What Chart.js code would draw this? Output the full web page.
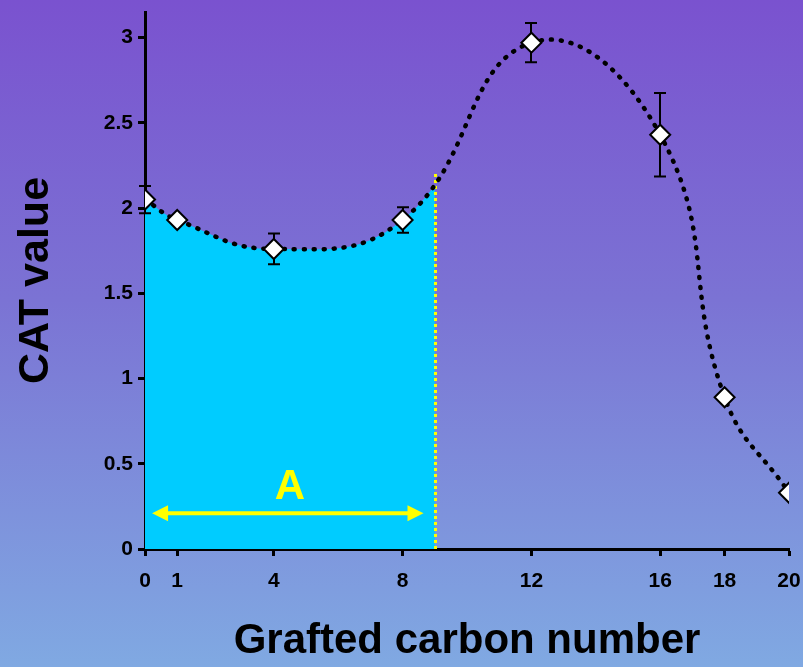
<!DOCTYPE html>
<html>
<head>
<meta charset="utf-8">
<script src="https://cdn.jsdelivr.net/npm/chart.js@4.4.1/dist/chart.umd.min.js"></script>
<style>
  html, body { margin: 0; padding: 0; }
  body {
    width: 803px; height: 667px; overflow: hidden;
    background: linear-gradient(to bottom, #7a52cf 0%, #7b73d4 45%, #80a9e2 100%);
  }
  #wrap { position: relative; width: 803px; height: 667px; }
</style>
</head>
<body>
<div id="wrap"><canvas id="c" width="803" height="667"></canvas></div>
<script>
// ---- data ----
const carbonNumbers = [0, 1, 4, 8, 12, 16, 18, 20];
const catValues     = [2.05, 1.93, 1.76, 1.93, 2.97, 2.43, 0.89, 0.33];
const catErrors     = [0.08, 0.00, 0.09, 0.075, 0.115, 0.245, 0.00, 0.00];
const xTickValues   = [0, 1, 4, 8, 12, 16, 18, 20];
const yTickValues   = [0, 0.5, 1, 1.5, 2, 2.5, 3];
const regionEndX    = 9;     // end of the shaded region "A"
const regionEndY    = 2.2;   // curve height at regionEndX
const arrowFromX    = 0.22;
const arrowToX      = 8.65;
const arrowY        = 0.21;
const regionLabel   = 'A';
const regionLabelX  = 4.5;
const regionLabelY  = 0.36;

const points = carbonNumbers.map((x, i) => ({ x: x, y: catValues[i] }));

const fontFam = "'Liberation Sans', Arial, sans-serif";

const regionPlugin = {
  id: 'region',
  beforeDatasetsDraw(chart) {
    // clip region used while the fill dataset (drawn first) is painted
    const { ctx, chartArea, scales } = chart;
    const xr = scales.x.getPixelForValue(regionEndX);
    ctx.save();
    ctx.beginPath();
    ctx.rect(chartArea.left, chartArea.top - 5, xr - chartArea.left, chartArea.bottom - chartArea.top + 5);
    ctx.clip();
  },
  afterDatasetDraw(chart, args) {
    if (chart.data.datasets[args.index].role !== 'fill') return;
    const { ctx, scales } = chart;
    ctx.restore();
    const xs = scales.x, ys = scales.y;
    ctx.save();
    // yellow dotted boundary
    ctx.strokeStyle = '#ffff00';
    ctx.lineWidth = 3;
    ctx.setLineDash([3, 3]);
    const xr = Math.round(xs.getPixelForValue(regionEndX)) + 0.5;
    ctx.beginPath();
    ctx.moveTo(xr, ys.getPixelForValue(0));
    ctx.lineTo(xr, ys.getPixelForValue(regionEndY));
    ctx.stroke();
    ctx.setLineDash([]);
    // double arrow
    const ay = ys.getPixelForValue(arrowY);
    const a1 = xs.getPixelForValue(arrowFromX), a2 = xs.getPixelForValue(arrowToX);
    const hl = 16, hw = 8;
    ctx.fillStyle = '#ffff00';
    ctx.lineWidth = 4;
    ctx.beginPath();
    ctx.moveTo(a1 + hl - 2, ay); ctx.lineTo(a2 - hl + 2, ay); ctx.stroke();
    ctx.beginPath();
    ctx.moveTo(a1, ay); ctx.lineTo(a1 + hl, ay - hw); ctx.lineTo(a1 + hl, ay + hw); ctx.closePath(); ctx.fill();
    ctx.beginPath();
    ctx.moveTo(a2, ay); ctx.lineTo(a2 - hl, ay - hw); ctx.lineTo(a2 - hl, ay + hw); ctx.closePath(); ctx.fill();
    // label
    ctx.font = "bold 42px " + fontFam;
    ctx.textAlign = 'center';
    ctx.textBaseline = 'middle';
    ctx.fillText(regionLabel, xs.getPixelForValue(regionLabelX), ys.getPixelForValue(regionLabelY));
    // error bars
    ctx.strokeStyle = '#000';
    ctx.lineWidth = 2;
    carbonNumbers.forEach((x, i) => {
      const e = catErrors[i];
      if (!e) return;
      const px = Math.round(xs.getPixelForValue(x));
      const top = ys.getPixelForValue(catValues[i] + e);
      const bot = ys.getPixelForValue(catValues[i] - e);
      ctx.beginPath();
      ctx.moveTo(px, top); ctx.lineTo(px, bot);
      ctx.moveTo(px - 6, top); ctx.lineTo(px + 6, top);
      ctx.moveTo(px - 6, bot); ctx.lineTo(px + 6, bot);
      ctx.stroke();
    });
    ctx.restore();
  }
};

new Chart(document.getElementById('c'), {
  type: 'line',
  data: {
    datasets: [
      {
        label: 'CAT value',
        data: points,
        order: 1,
        borderColor: '#000',
        borderWidth: 4.5,
        borderDash: [1, 9],
        borderCapStyle: 'round',
        tension: 0.45,
        fill: false,
        pointStyle: 'rectRot',
        pointRadius: 10,
        pointBackgroundColor: '#ffffff',
        pointBorderColor: '#000',
        pointBorderWidth: 2
      },
      {
        label: 'region',
        role: 'fill',
        data: points,
        order: 2,
        borderWidth: 0,
        borderColor: 'rgba(0,0,0,0)',
        backgroundColor: '#00ccff',
        tension: 0.45,
        fill: 'origin',
        pointRadius: 0
      }
    ]
  },
  options: {
    responsive: false,
    animation: false,
    layout: { padding: { top: 8, right: 14, left: 0, bottom: 0 } },
    plugins: { legend: { display: false }, tooltip: { enabled: false } },
    scales: {
      x: {
        type: 'linear',
        min: 0, max: 20,
        afterBuildTicks: s => { s.ticks = xTickValues.map(v => ({ value: v })); },
        afterFit: s => { s.height = 118; s.paddingLeft = 0; s.paddingRight = 0; },
        grid: { drawOnChartArea: false, tickLength: 7, tickWidth: 3, tickColor: '#000' },
        border: { display: true, color: '#000', width: 3 },
        ticks: { color: '#000', font: { family: fontFam, size: 21, weight: 'bold' }, padding: 13, maxRotation: 0,
                 callback: v => String(v) },
        title: { display: true, text: 'Grafted carbon number', color: '#000',
                 font: { family: fontFam, size: 42, weight: 'bold' }, padding: { top: 0, bottom: 0 } }
      },
      y: {
        type: 'linear',
        min: 0, max: 3.15,
        afterBuildTicks: s => { s.ticks = yTickValues.map(v => ({ value: v })); },
        afterFit: s => { s.width = 145; s.paddingTop = 0; s.paddingBottom = 0; },
        grid: { drawOnChartArea: false, tickLength: 7, tickWidth: 3, tickColor: '#000' },
        border: { display: true, color: '#000', width: 3 },
        ticks: { color: '#000', font: { family: fontFam, size: 21, weight: 'bold' }, padding: 5,
                 callback: v => String(v) },
        title: { display: true, text: 'CAT value', color: '#000',
                 font: { family: fontFam, size: 43, weight: 'bold' }, padding: { top: 10, bottom: 0 } }
      }
    }
  },
  plugins: [regionPlugin]
});
</script>
</body>
</html>
